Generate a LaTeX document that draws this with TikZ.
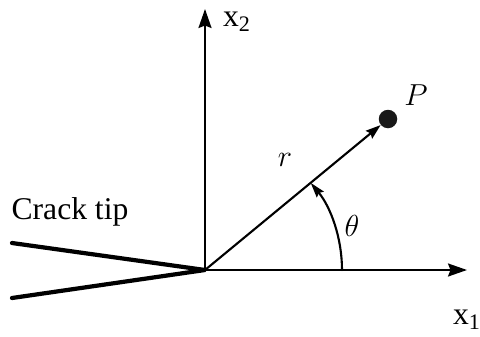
\documentclass[tikz,border=0pt]{standalone}
\usepackage{amsmath,amsfonts,amssymb}
\usepackage{fontspec}
\setmainfont{Liberation Serif}
\usepackage{tikz,tkz-euclide}
\usetikzlibrary{arrows.meta}

\begin{document}
\begin{tikzpicture}[x=0.02cm, y=0.02cm, >={Stealth[length=0.38cm,width=0.26cm,inset=0.05cm]}, font=\fontsize{18}{21}\selectfont, line join=round, line cap=round]
			\useasboundingbox (-205,-66) rectangle (275,270);
			\tkzDefPoints{0/0/O,262/0/X,0/261/Y,-193/27/A,-193/-28/B}
			\node[circle, fill=black!90, inner sep=0pt, minimum size=0.37cm] (P) at (183,151) {};
			\draw[line width=2.4pt] (A) -- (O) -- (B);
			\draw[->, line width=1.2pt] (O) -- (X);
			\draw[->, line width=1.2pt] (O) -- (Y);
			\draw[->, line width=1.2pt, >={Stealth[length=0.3cm,width=0.2cm,inset=0.04cm]}] (O) -- (P);
			\draw[->, line width=1.2pt, >={Stealth[length=0.3cm,width=0.18cm,inset=0.04cm]}] ($(O)+(137,0)$) arc[start angle=0, end angle=39.5, radius=137];
			\node (lx1) at (262,-50) {x\textsubscript{1}};
			\node (lx2) at (32,248) {x\textsubscript{2}};
			\node (lP) at (211,175) {$P$};
			\node (lr) at (80,110) {$r$};
			\node (lt) at (147,44) {$\theta$};
			\node (crack) at (-135,58) {Crack tip};
		\end{tikzpicture}
\end{document}
